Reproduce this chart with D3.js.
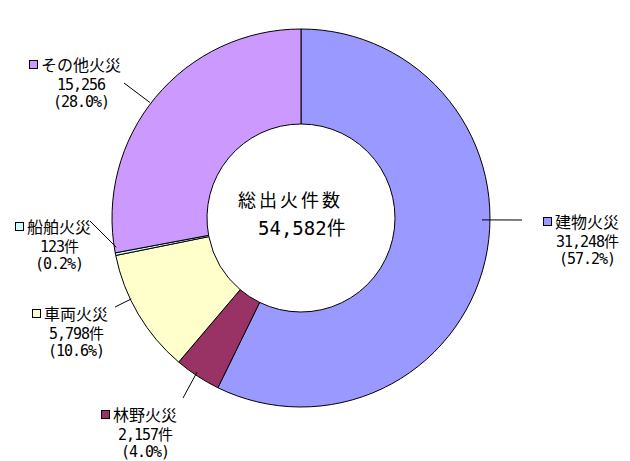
<!DOCTYPE html>
<html lang="ja">
<head>
  <meta charset="UTF-8">
  <title>総出火件数</title>
  <script src="https://cdnjs.cloudflare.com/ajax/libs/d3/7.8.5/d3.min.js"></script>
  <style>
    html, body {
      margin: 0;
      padding: 0;
      background: #fff;
    }
    #chart {
      width: 630px;
      height: 461px;
    }
    text {
      font-family: "Noto Sans CJK JP", "Noto Sans", sans-serif;
      fill: #000;
    }
    .num {
      font-family: "DejaVu Sans Mono", "Noto Sans CJK JP", monospace;
    }
  </style>
</head>
<body>
  <div id="chart"></div>

  <script>
    // data
    const categories = ["建物火災", "林野火災", "車両火災", "船舶火災", "その他火災"];
    const counts = [31248, 2157, 5798, 123, 15256];
    const units = ["件", "件", "件", "件", ""];
    const percents = ["57.2%", "4.0%", "10.6%", "0.2%", "28.0%"];
    const colors = ["#9999FF", "#993366", "#FFFFCC", "#CCFFFF", "#CC99FF"];
    const centerTitle = "総出火件数";
    const centerTotal = "54,582件";

    // label placement (layout only)
    const labelX = [587, 145, 76, 59, 81];
    const labelY = [228, 421, 320, 233, 71];
    const leaderFrom = [[522, 220], [183, 398], [115, 307], [90, 221], [124, 83]];
    const leaderAngle = [90.6, 214, 244.5, 261, 307.4];
    const leaderRadius = [181, 186, 188, 187, 190];

    const width = 630, height = 461;
    const cx = 301, cy = 218;
    const outerR = 189, innerR = 94;

    const svg = d3.select("#chart")
      .append("svg")
        .attr("width", width)
        .attr("height", height);

    const pie = d3.pie().sort(null).value(d => d);
    const arc = d3.arc().innerRadius(innerR).outerRadius(outerR);
    const slices = pie(counts);

    const g = svg.append("g")
      .attr("transform", `translate(${cx},${cy})`);

    g.selectAll("path.slice")
      .data(slices)
      .join("path")
        .attr("class", "slice")
        .attr("d", arc)
        .attr("fill", (d, i) => colors[i])
        .attr("stroke", "#000")
        .attr("stroke-width", 1);

    // center text
    g.append("text")
      .attr("x", -63)
      .attr("y", -11)
      .attr("font-size", 18)
      .attr("letter-spacing", 3)
      .text(centerTitle);
    g.append("text")
      .attr("class", "num")
      .attr("x", -43)
      .attr("y", 17)
      .attr("font-size", 19)
      .attr("letter-spacing", 0)
      .text(centerTotal);

    // leader lines
    categories.forEach((name, i) => {
      const p = d3.pointRadial(leaderAngle[i] * Math.PI / 180, leaderRadius[i]);
      svg.append("line")
        .attr("x1", leaderFrom[i][0])
        .attr("y1", leaderFrom[i][1])
        .attr("x2", cx + p[0])
        .attr("y2", cy + p[1])
        .attr("stroke", "#000")
        .attr("stroke-width", 1);
    });

    // labels: name / count / percent
    const fmt = d3.format(",");
    categories.forEach((name, i) => {
      const t = svg.append("text")
        .attr("text-anchor", "middle")
        .attr("font-size", 16);
      const title = t.append("tspan")
        .attr("x", labelX[i])
        .attr("y", labelY[i])
        .text(name);
      t.append("tspan")
        .attr("class", "num")
        .attr("x", labelX[i])
        .attr("y", labelY[i] + 19)
        .attr("font-size", 15)
        .attr("letter-spacing", -1)
        .text(fmt(counts[i]) + units[i]);
      t.append("tspan")
        .attr("class", "num")
        .attr("x", labelX[i])
        .attr("y", labelY[i] + 36)
        .attr("font-size", 15)
        .attr("letter-spacing", -1)
        .text("(" + percents[i] + ")");

      const w = title.node().getComputedTextLength();
      svg.append("rect")
        .attr("x", labelX[i] - w / 2 - 11.5)
        .attr("y", labelY[i] - 10.5)
        .attr("width", 8)
        .attr("height", 8)
        .attr("fill", colors[i])
        .attr("stroke", "#000")
        .attr("stroke-width", 1);
    });
  </script>
</body>
</html>
